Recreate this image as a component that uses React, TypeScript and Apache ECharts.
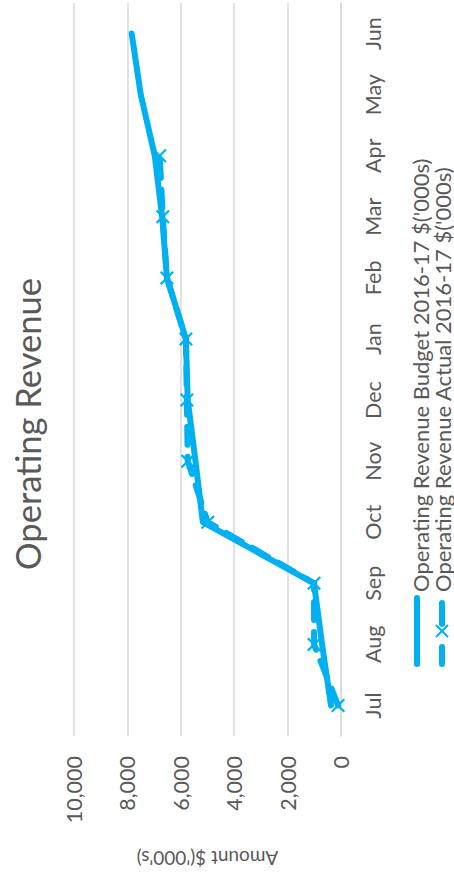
import React, { useEffect, useRef } from "react";
import * as echarts from "echarts";

const months = ["Jul", "Aug", "Sep", "Oct", "Nov", "Dec", "Jan", "Feb", "Mar", "Apr", "May", "Jun"];
const budget = [375, 710, 1010, 5175, 5450, 5740, 5810, 6520, 6700, 6975, 7500, 7840];
const actual: (number | null)[] = [110, 1010, 1010, 4990, 5740, 5775, 5810, 6520, 6675, 6790, null, null];
const seriesNames = [
  "Operating Revenue Budget 2016-17 $('000s)",
  "Operating Revenue Actual 2016-17 $('000s)",
];
const titleText = "Operating Revenue";
const axisName = "Amount $('000's)";
const valueMin = 0;
const valueMax = 10000;
const valueStep = 2000;

const BLUE = "#00B0F0";
const GREY = "#595959";
const FONT = "Lato";
const XSYM = "path://M0,1.1L1.1,0L5,3.9L8.9,0L10,1.1L6.1,5L10,8.9L8.9,10L5,6.1L1.1,10L0,8.9L3.9,5Z";

export default function App() {
  const ref = useRef<HTMLDivElement>(null);
  useEffect(() => {
    if (!ref.current) return;
    const chart = echarts.init(ref.current, undefined, { renderer: "svg" });
    chart.setOption({
      animation: false,
      textStyle: { fontFamily: FONT },
      grid: { left: 74, right: 113, top: 3, bottom: 130, containLabel: false },
      xAxis: {
        type: "value",
        min: valueMin,
        max: valueMax,
        interval: valueStep,
        inverse: true,
        position: "bottom",
        axisLine: { show: false },
        axisTick: { show: false },
        splitLine: { lineStyle: { color: "#d9d9d9", width: 1.5 } },
        axisLabel: {
          rotate: 90,
          margin: 20,
          color: GREY,
          fontSize: 21.5,
          fontFamily: FONT,
          formatter: (v: number) => v.toLocaleString("en-US"),
        },
        name: axisName,
        nameLocation: "middle",
        nameRotate: 180,
        nameGap: 113,
        nameTextStyle: { color: GREY, fontSize: 19, fontFamily: FONT },
      },
      yAxis: {
        type: "category",
        data: months,
        position: "right",
        boundaryGap: true,
        axisLine: { show: true, lineStyle: { color: "#d9d9d9", width: 1.5 } },
        axisTick: { show: false },
        axisLabel: {
          rotate: 90,
          margin: 21,
          color: GREY,
          fontSize: 21.5,
          fontFamily: FONT,
        },
      },
      legend: { show: false },
      series: [
        {
          name: seriesNames[0],
          type: "line",
          data: budget,
          symbol: "none",
          lineStyle: { color: BLUE, width: 6, cap: "round", join: "round" },
          itemStyle: { color: BLUE },
        },
        {
          name: seriesNames[1],
          type: "line",
          data: actual,
          symbol: XSYM,
          symbolSize: 14,
          showSymbol: true,
          lineStyle: { color: BLUE, width: 6, type: [18, 12], cap: "round", join: "round" },
          itemStyle: { color: BLUE },
        },
      ],
      graphic: [
        {
          type: "text",
          x: 27,
          y: 424,
          rotation: Math.PI / 2,
          style: {
            text: titleText,
            fill: GREY,
            fontSize: 34.5,
            fontFamily: FONT,
            align: "center",
            verticalAlign: "middle",
          },
        },
        {
          type: "group",
          x: 405,
          y: 667,
          rotation: Math.PI / 2,
          children: [
            {
              type: "line",
              shape: { x1: 3, y1: 12, x2: 69, y2: 12 },
              style: { stroke: BLUE, lineWidth: 6, lineCap: "round" },
            },
            {
              type: "text",
              x: 75,
              y: 15,
              style: {
                text: seriesNames[0],
                fill: GREY,
                fontSize: 22,
                lineHeight: 22,
                fontFamily: FONT,
                align: "left",
                verticalAlign: "middle",
              },
            },
            {
              type: "line",
              shape: { x1: 3, y1: 37, x2: 20, y2: 37 },
              style: { stroke: BLUE, lineWidth: 6, lineCap: "round" },
            },
            {
              type: "line",
              shape: { x1: 43, y1: 37, x2: 64, y2: 37 },
              style: { stroke: BLUE, lineWidth: 6, lineCap: "round" },
            },
            {
              type: "line",
              shape: { x1: 30, y1: 31, x2: 42, y2: 43 },
              style: { stroke: BLUE, lineWidth: 2 },
            },
            {
              type: "line",
              shape: { x1: 30, y1: 43, x2: 42, y2: 31 },
              style: { stroke: BLUE, lineWidth: 2 },
            },
            {
              type: "text",
              x: 75,
              y: 37,
              style: {
                text: seriesNames[1],
                fill: GREY,
                fontSize: 22,
                lineHeight: 22,
                fontFamily: FONT,
                align: "left",
                verticalAlign: "middle",
              },
            },
          ],
        },
      ],
    });
    return () => chart.dispose();
  }, []);
  return (
    <div
      ref={ref}
      style={{ position: "absolute", left: 0, top: 0, width: 454, height: 873, background: "#fff" }}
    />
  );
}
